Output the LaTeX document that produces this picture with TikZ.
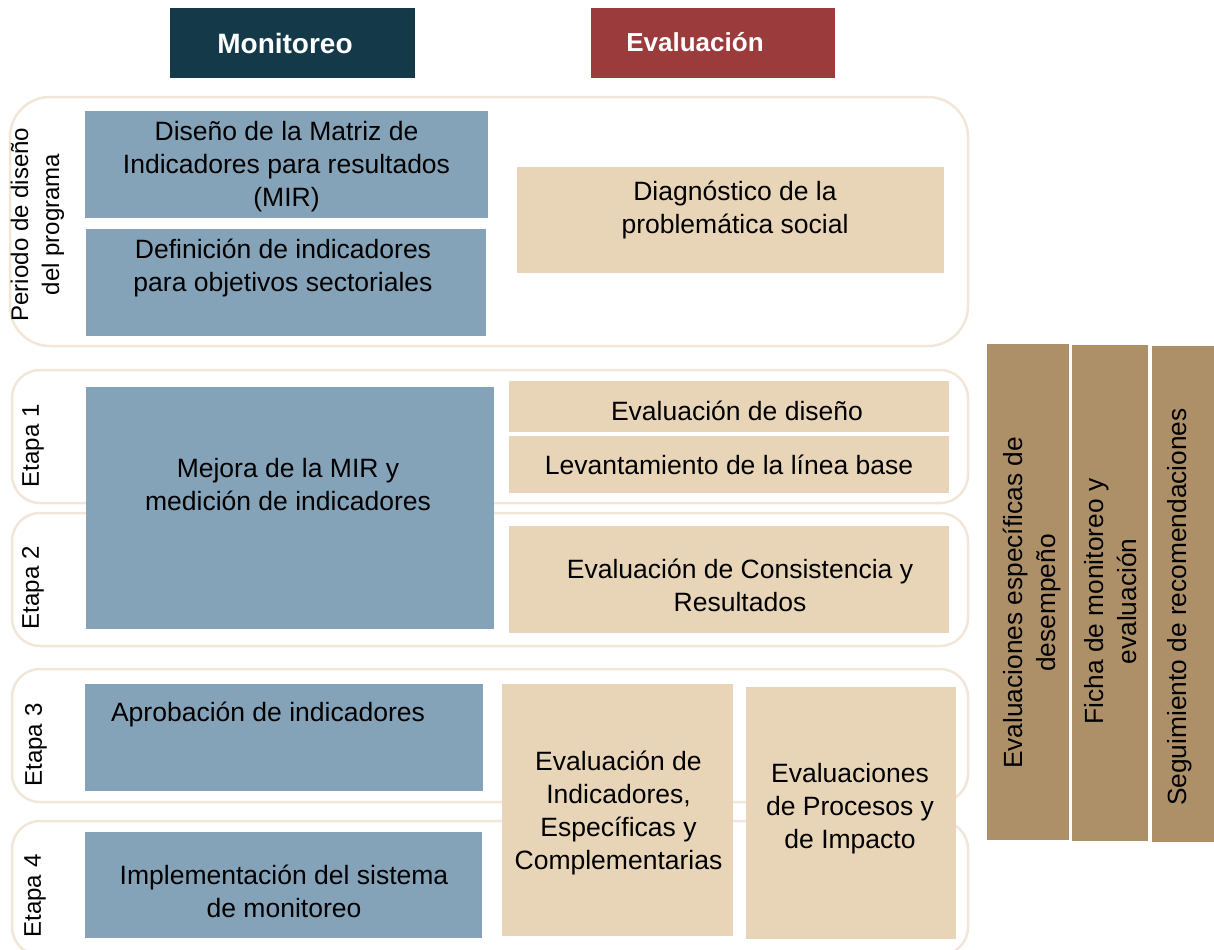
\documentclass[tikz,border=0pt]{standalone}
\usepackage{fontspec}
\setmainfont{Liberation Sans}
\usepackage{xcolor}
\definecolor{monblue}{HTML}{84A2B8}
\definecolor{evalbeige}{HTML}{E8D5B8}
\definecolor{sidebrown}{HTML}{AE9068}
\definecolor{framecol}{HTML}{F2E6D8}
\definecolor{mondark}{HTML}{143A4A}
\definecolor{evalred}{HTML}{9B3B3C}
\newlength\pxu
\setlength\pxu{0.025cm}

\begin{document}
\begin{tikzpicture}[x=0.025cm, y=-0.025cm,
    stageframe/.style={rectangle, draw=framecol, line width=2.5\pxu, rounded corners=28\pxu, inner sep=0pt},
    header/.style={rectangle, inner sep=0pt, minimum width=245\pxu, minimum height=70\pxu},
    headtext/.style={text=white, inner sep=0pt, font=\bfseries\fontsize{19.9}{24}\selectfont},
    monbox/.style={rectangle, fill=monblue, inner sep=0pt},
    evalbox/.style={rectangle, fill=evalbeige, inner sep=0pt},
    sidebox/.style={rectangle, fill=sidebrown, inner sep=0pt, minimum height=496\pxu},
    boxtext/.style={align=center, inner sep=0pt, font=\fontsize{18.85}{23.5}\selectfont},
    sidetext/.style={align=center, inner sep=0pt, rotate=90, font=\fontsize{18.7}{23.5}\selectfont},
    stagetext/.style={align=center, inner sep=0pt, rotate=90, font=\fontsize{17.1}{22}\selectfont}
]
\useasboundingbox (0,0) rectangle (1214,949);

% Stage frames
\node[stageframe, rounded corners=40\pxu, minimum width=958\pxu, minimum height=249\pxu] (PerF) at (489,221.5) {};
\node[stageframe, minimum width=956\pxu, minimum height=133\pxu] (E1F) at (490,436.5) {};
\node[stageframe, minimum width=956\pxu, minimum height=133\pxu] (E2F) at (490,579.5) {};
\node[stageframe, minimum width=956\pxu, minimum height=133\pxu] (E3F) at (490,735.5) {};
\node[stageframe, minimum width=956\pxu, minimum height=134\pxu] (E4F) at (490,888) {};

% Headers
\node[header, fill=mondark] (Mon) at (292.5,43) {};
\node[headtext] (MonT) at (285,43) {Monitoreo};
\node[header, fill=evalred, minimum width=244\pxu] (Eva) at (713,43) {};
\node[headtext, font=\bfseries\fontsize{18.5}{22}\selectfont] (EvaT) at (695,42) {Evaluación};

% Stage labels (left side)
\node[stagetext] (PerT) at (37.5,224.5) {Periodo de diseño\\del programa};
\node[stagetext] (E1T) at (33,446) {Etapa 1};
\node[stagetext] (E2T) at (33,588) {Etapa 2};
\node[stagetext] (E3T) at (36,745) {Etapa 3};
\node[stagetext] (E4T) at (35,896) {Etapa 4};

% Monitoreo column
\node[monbox, minimum width=403\pxu, minimum height=107\pxu] (MIR) at (286.5,164.5) {};
\node[boxtext] (MIRT) at (286.5,167) {Diseño de la Matriz de\\Indicadores para resultados\\(MIR)};
\node[monbox, minimum width=400\pxu, minimum height=107\pxu] (Def) at (286,282.5) {};
\node[boxtext] (DefT) at (283,268) {Definición de indicadores\\para objetivos sectoriales};
\node[monbox, minimum width=408\pxu, minimum height=242\pxu] (Mej) at (290,508) {};
\node[boxtext] (MejT) at (288,484.5) {Mejora de la MIR y\\medición de indicadores};
\node[monbox, minimum width=398\pxu, minimum height=107\pxu] (Apr) at (284,737.5) {};
\node[boxtext] (AprT) at (268,714) {Aprobación de indicadores};
\node[monbox, minimum width=397\pxu, minimum height=106\pxu] (Imp) at (283.5,885) {};
\node[boxtext] (ImpT) at (284,891) {Implementación del sistema\\de monitoreo};

% Evaluacion column
\node[evalbox, minimum width=427\pxu, minimum height=106\pxu] (Diag) at (730.5,220) {};
\node[boxtext] (DiagT) at (735,210) {Diagnóstico de la\\problemática social};
\node[evalbox, minimum width=440\pxu, minimum height=51\pxu] (EDis) at (729,406.5) {};
\node[boxtext] (EDisT) at (737,411) {Evaluación de diseño};
\node[evalbox, boxtext, minimum width=440\pxu, minimum height=57\pxu] (Lev) at (729,464.5) {Levantamiento de la línea base};
\node[evalbox, minimum width=440\pxu, minimum height=107\pxu] (Cons) at (729,579.5) {};
\node[boxtext] (ConsT) at (740,585.5) {Evaluación de Consistencia y\\Resultados};
\node[evalbox, minimum width=231\pxu, minimum height=252\pxu] (EInd) at (617.5,810) {};
\node[boxtext] (EIndT) at (618.5,813) {Evaluación de\\Indicadores,\\Específicas y\\Complementarias};
\node[evalbox, minimum width=210\pxu, minimum height=252\pxu] (EPro) at (851,813) {};
\node[boxtext] (EProT) at (850,808.5) {Evaluaciones\\de Procesos y\\de Impacto};

% Side boxes (right side)
\node[sidebox, minimum width=82\pxu] (S1) at (1028,592) {};
\node[sidetext] (S1T) at (1032.5,603) {Evaluaciones específicas de\\desempeño};
\node[sidebox, minimum width=76\pxu] (S2) at (1110,593) {};
\node[sidetext] (S2T) at (1110.5,601.5) {Ficha de monitoreo y\\evaluación};
\node[sidebox, minimum width=62\pxu] (S3) at (1183,594) {};
\node[sidetext] (S3T) at (1180,607) {Seguimiento de recomendaciones};

\end{tikzpicture}
\end{document}
